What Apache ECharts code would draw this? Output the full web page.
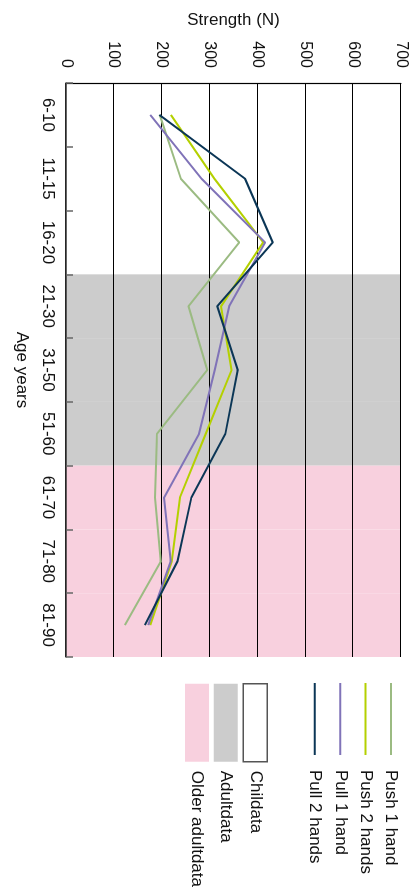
<!DOCTYPE html>
<html>
<head>
<meta charset="utf-8">
<script src="https://cdn.jsdelivr.net/npm/echarts@6/dist/echarts.min.js"></script>
<style>
  html, body { margin: 0; padding: 0; background: #fff; overflow: hidden; }
  #wrap { position: absolute; left: 0; top: 0; width: 414px; height: 891px; overflow: hidden; }
  /* chart is drawn landscape, then turned a quarter clockwise */
  #chart {
    position: absolute; left: 0; top: 0; width: 891px; height: 414px;
    transform-origin: 0 0; transform: translate(414px, 0) rotate(90deg);
  }
</style>
</head>
<body>
<div id="wrap"><div id="chart"></div></div>
<script>
// age groups (category axis)
const ageGroups = ['6-10', '11-15', '16-20', '21-30', '31-50', '51-60', '61-70', '71-80', '81-90'];

// strength in N
const push1Hand  = [196, 240, 362, 256, 295, 190, 186, 198, 123];
const push2Hands = [219, 310, 412, 324, 346, 292, 238, 221, 176];
const pull1Hand  = [176, 283, 416, 341, 311, 278, 205, 219, 172];
const pull2Hands = [195, 374, 432, 316, 359, 333, 262, 233, 165];

// which age groups belong to each data set
const childAges = ['6-10', '11-15', '16-20'];
const adultAges = ['21-30', '31-50', '51-60'];
const olderAges = ['61-70', '71-80', '81-90'];

const strengthMin = 0;
const strengthMax = 700;
const strengthStep = 100;

const FONT = "'Liberation Sans', Arial, Helvetica, sans-serif";

const bandData = (ages) => ageGroups.map((a) => (ages.includes(a) ? strengthMax : null));

const bandSeries = (name, ages, color) => ({
  name: name,
  type: 'bar',
  data: bandData(ages),
  barWidth: '100%',
  barGap: '-100%',
  z: -1,
  silent: true,
  itemStyle: { color: color, borderWidth: 0 },
});

const lineSeries = (name, data, color) => ({
  name: name,
  type: 'line',
  data: data,
  symbol: 'none',
  z: 3,
  lineStyle: { width: 2, color: color },
  itemStyle: { color: color },
});

const chart = echarts.init(document.getElementById('chart'), null, { renderer: 'canvas' });

chart.setOption({
  backgroundColor: '#fff',
  animation: false,
  textStyle: { fontFamily: FONT },
  grid: { left: 83, right: 234, top: 13, bottom: 66, containLabel: false },
  legend: [
    {
      orient: 'vertical',
      left: 678,
      top: 9.5,
      icon: 'rect',
      itemWidth: 72,
      itemHeight: 2,
      itemGap: 8.4,
      selectedMode: false,
      data: ['Push 1 hand', 'Push 2 hands', 'Pull 1 hand', 'Pull 2 hands'],
      textStyle: { fontSize: 17, color: '#111', fontFamily: FONT, lineHeight: 16, padding: [0, 0, 0, 10] },
    },
    {
      orient: 'vertical',
      left: 678,
      top: 141,
      itemWidth: 78,
      itemHeight: 24,
      itemGap: 4.8,
      icon: 'rect',
      selectedMode: false,
      data: [
        { name: 'Childata', itemStyle: { color: '#fff', borderColor: '#555', borderWidth: 1.5 } },
        { name: 'Adultdata', itemStyle: { color: '#cccccc' } },
        { name: 'Older adultdata', itemStyle: { color: '#f8d0de' } },
      ],
      textStyle: { fontSize: 17, color: '#111', fontFamily: FONT, padding: [0, 0, 0, 4] },
    },
  ],
  xAxis: {
    type: 'category',
    data: ageGroups,
    boundaryGap: true,
    name: 'Age years',
    nameLocation: 'middle',
    nameGap: 36,
    nameTextStyle: { fontSize: 17, color: '#111', fontFamily: FONT },
    axisLine: { show: true, lineStyle: { color: '#333', width: 1.5 } },
    axisTick: { show: true, inside: true, length: 7, lineStyle: { color: '#666', width: 1.5 } },
    axisLabel: { interval: 0, fontSize: 17, color: '#111', margin: 10, fontFamily: FONT },
    splitLine: { show: false },
  },
  yAxis: {
    type: 'value',
    min: strengthMin,
    max: strengthMax,
    interval: strengthStep,
    name: 'Strength (N)',
    nameLocation: 'middle',
    nameGap: 54,
    nameTextStyle: { fontSize: 17, color: '#111', fontFamily: FONT },
    axisLine: { show: true, lineStyle: { color: '#000', width: 1.2 } },
    axisTick: { show: false },
    axisLabel: { fontSize: 16, color: '#111', margin: 15, fontFamily: FONT },
    splitLine: { show: true, lineStyle: { color: '#000', width: 1 } },
  },
  series: [
    bandSeries('Childata', childAges, '#ffffff'),
    bandSeries('Adultdata', adultAges, '#cccccc'),
    bandSeries('Older adultdata', olderAges, '#f8d0de'),
    lineSeries('Push 1 hand', push1Hand, '#9bbb82'),
    lineSeries('Push 2 hands', push2Hands, '#b4d000'),
    lineSeries('Pull 1 hand', pull1Hand, '#8073b8'),
    lineSeries('Pull 2 hands', pull2Hands, '#0b3656'),
  ],
});
</script>
</body>
</html>
